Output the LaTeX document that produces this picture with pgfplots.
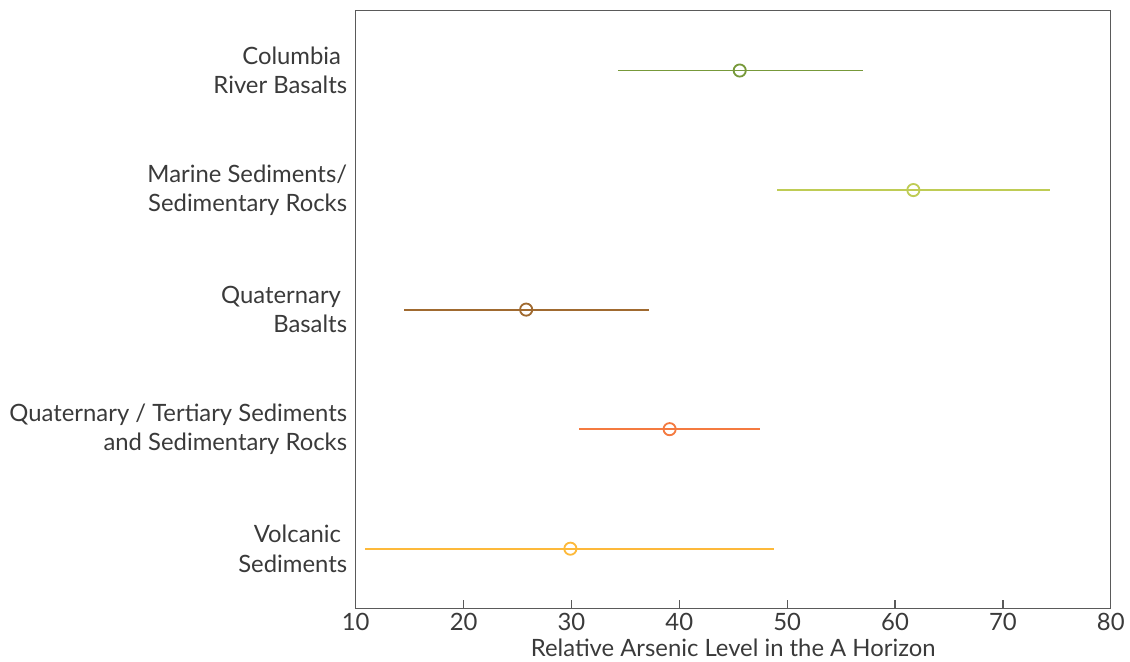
\documentclass[border={6pt 2pt 2pt 10pt}]{standalone}
\usepackage{pgfplots}
\pgfplotsset{compat=1.18}
\usepackage{fontspec}
\setmainfont{Lato}
\definecolor{axisgray}{HTML}{5A5A5A}
\definecolor{txt}{HTML}{3A3A3A}
\definecolor{cGreen}{HTML}{77993A}
\definecolor{cLime}{HTML}{BFCC55}
\definecolor{cBrown}{HTML}{A06A30}
\definecolor{cOrange}{HTML}{F47A40}
\definecolor{cYellow}{HTML}{FDB93A}
\tikzset{lab/.style={anchor=east, align=right, font=\fontsize{23.5}{29}\selectfont, text=txt, xshift=-5pt}}
\begin{document}
\begin{tikzpicture}
\begin{axis}[
  scale only axis,
  width=744pt, height=589pt,
  xmin=10, xmax=80, ymin=0.5, ymax=5.5,
  xtick={10,20,...,80},
  ytick=\empty,
  xticklabel style={font=\fontsize{23.5}{26}\selectfont, text=txt, yshift=-1pt},
  /pgf/number format/assume math mode=true,
  tick align=inside,
  xtick pos=left,
  major tick length=8pt,
  tick style={axisgray, line width=1.2pt},
  axis line style={axisgray, line width=1.2pt},
  xlabel={Relative Arsenic Level in the A Horizon},
  xlabel style={font=\fontsize{23.5}{26}\selectfont, text=txt, yshift=-1pt},
  clip=false,
]
\addplot[cGreen, line width=1.8pt] coordinates {(34.3,5) (57.0,5)};
\addplot[cGreen, only marks, mark=o, mark size=6pt, mark options={line width=1.8pt}] coordinates {(45.6,5)};
\addplot[cLime, line width=1.8pt] coordinates {(49.1,4) (74.4,4)};
\addplot[cLime, only marks, mark=o, mark size=6pt, mark options={line width=1.8pt}] coordinates {(61.7,4)};
\addplot[cBrown, line width=1.8pt] coordinates {(14.5,3) (37.2,3)};
\addplot[cBrown, only marks, mark=o, mark size=6pt, mark options={line width=1.8pt}] coordinates {(25.8,3)};
\addplot[cOrange, line width=1.8pt] coordinates {(30.7,2) (47.5,2)};
\addplot[cOrange, only marks, mark=o, mark size=6pt, mark options={line width=1.8pt}] coordinates {(39.1,2)};
\addplot[cYellow, line width=1.8pt] coordinates {(10.9,1) (48.8,1)};
\addplot[cYellow, only marks, mark=o, mark size=6pt, mark options={line width=1.8pt}] coordinates {(29.9,1)};
\node[lab] at (axis cs:10,5) {Columbia\hspace*{6pt}\\River Basalts};
\node[lab] at (axis cs:10,4) {Marine Sediments/\\Sedimentary Rocks};
\node[lab] at (axis cs:10,3) {Quaternary\hspace*{6pt}\\Basalts};
\node[lab] at (axis cs:10,2) {Quaternary / Tertiary Sediments\\and Sedimentary Rocks};
\node[lab] at (axis cs:10,1) {Volcanic\hspace*{6pt}\\Sediments};
\end{axis}
\end{tikzpicture}
\end{document}
